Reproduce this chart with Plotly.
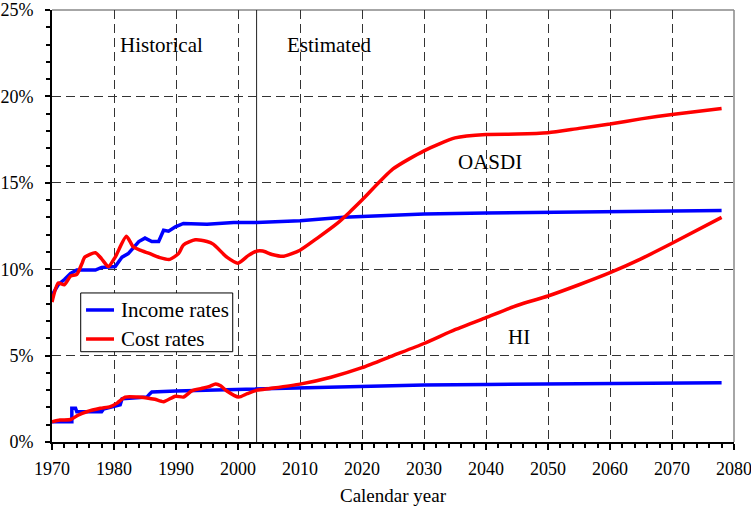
import plotly.graph_objects as go

# OASDI income rate
oasdi_inc_years = [1970, 1971, 1972, 1973, 1974, 1977, 1978, 1979.6, 1980.2, 1981.3, 1982.3, 1984, 1985, 1986.1, 1987.2, 1988, 1988.8, 1989.9, 1991.2, 1995, 1999.3, 2003, 2005, 2010, 2017, 2020, 2030, 2040, 2050, 2060, 2070, 2078]
oasdi_inc = [8.5, 9.1, 9.4, 9.75, 9.95, 9.95, 10.1, 10.15, 10.15, 10.7, 10.9, 11.6, 11.8, 11.6, 11.6, 12.25, 12.2, 12.45, 12.65, 12.6, 12.7, 12.7, 12.72, 12.8, 13.0, 13.05, 13.2, 13.25, 13.28, 13.32, 13.36, 13.4]

# OASDI cost rate
oasdi_cost_years = [1970, 1971, 1972, 1973, 1974, 1974.8, 1975.3, 1977, 1978, 1979.1, 1980.2, 1982, 1983.1, 1984.2, 1985.8, 1987.4, 1989, 1990.4, 1991.2, 1993.1, 1995, 1996, 1998.2, 2000, 2001.7, 2003.1, 2004, 2005.5, 2007.4, 2010, 2012.8, 2016, 2018, 2020, 2025, 2030, 2035, 2040, 2045, 2050, 2055, 2060, 2065, 2070, 2078]
oasdi_cost = [8.1, 9.2, 9.1, 9.6, 9.7, 10.3, 10.7, 10.95, 10.6, 10.15, 10.7, 11.9, 11.3, 11.1, 10.9, 10.67, 10.57, 10.9, 11.4, 11.7, 11.6, 11.45, 10.7, 10.35, 10.8, 11.05, 11.05, 10.85, 10.75, 11.1, 11.8, 12.65, 13.3, 14.0, 15.8, 16.85, 17.6, 17.8, 17.82, 17.9, 18.15, 18.4, 18.7, 18.95, 19.3]

# HI income rate (step-like history)
hi_inc_years = [1970, 1973.2, 1973.2, 1973.8, 1974, 1978, 1978.3, 1979.9, 1981, 1981.3, 1985.3, 1985.8, 1986.1, 1990, 1995, 2000, 2005, 2010, 2020, 2030, 2040, 2050, 2060, 2070, 2078]
hi_inc = [1.17, 1.17, 1.95, 1.95, 1.75, 1.75, 1.9, 2.05, 2.15, 2.5, 2.6, 2.8, 2.9, 2.95, 3.0, 3.05, 3.07, 3.12, 3.22, 3.3, 3.33, 3.35, 3.38, 3.41, 3.43]

# HI cost rate
hi_cost_years = [1970, 1971.3, 1973, 1974.2, 1975.6, 1977.8, 1979.4, 1980.5, 1981.8, 1983.8, 1985.3, 1986.6, 1988, 1989.9, 1991.2, 1992.6, 1994.1, 1995.3, 1996.4, 1997.2, 1998.2, 2000.1, 2001.5, 2003.1, 2005.2, 2010, 2015, 2020, 2025, 2030, 2035, 2040, 2045, 2050, 2055, 2060, 2065, 2070, 2078]
hi_cost = [1.17, 1.27, 1.3, 1.55, 1.75, 1.95, 2.05, 2.25, 2.6, 2.6, 2.55, 2.47, 2.33, 2.65, 2.6, 2.97, 3.1, 3.2, 3.35, 3.25, 2.95, 2.6, 2.8, 3.0, 3.1, 3.35, 3.75, 4.3, 5.0, 5.7, 6.5, 7.2, 7.9, 8.45, 9.1, 9.8, 10.6, 11.5, 13.0]

y_ticks = [0, 5, 10, 15, 20, 25]
y_tick_labels = ["0%", "5%", "10%", "15%", "20%", "25%"]
x_ticks = [1970, 1980, 1990, 2000, 2010, 2020, 2030, 2040, 2050, 2060, 2070, 2080]
legend_labels = ["Income rates", "Cost rates"]

BLUE = "#0000ff"
RED = "#ff0000"
FONT = "Liberation Serif, Times New Roman, serif"

fig = go.Figure()
fig.add_trace(go.Scatter(x=oasdi_inc_years, y=oasdi_inc, mode="lines", name=legend_labels[0],
                         line=dict(color=BLUE, width=3.5)))
fig.add_trace(go.Scatter(x=hi_inc_years, y=hi_inc, mode="lines", name=legend_labels[0],
                         line=dict(color=BLUE, width=3.5)))
fig.add_trace(go.Scatter(x=oasdi_cost_years, y=oasdi_cost, mode="lines", name=legend_labels[1],
                         line=dict(color=RED, width=3.5, shape="spline", smoothing=0.6)))
fig.add_trace(go.Scatter(x=hi_cost_years, y=hi_cost, mode="lines", name=legend_labels[1],
                         line=dict(color=RED, width=3.5, shape="spline", smoothing=0.6)))

# frame (top/right) and the 2003 divider
fig.add_shape(type="line", xref="paper", yref="paper", x0=0, x1=1, y0=1, y1=1,
              line=dict(color="#888888", width=1.5), layer="below")
fig.add_shape(type="line", xref="paper", yref="paper", x0=1, x1=1, y0=0, y1=1,
              line=dict(color="#888888", width=1.5), layer="below")
fig.add_shape(type="line", xref="x", yref="paper", x0=2003, x1=2003, y0=0, y1=1,
              line=dict(color="#222222", width=1), layer="below")

# boxed legend
fig.add_shape(type="rect", xref="paper", yref="paper", x0=0.0421, x1=0.265, y0=0.209, y1=0.345,
              line=dict(color="black", width=1), fillcolor="white", layer="above")
for yy, col, lab in [(0.3056, BLUE, legend_labels[0]), (0.2384, RED, legend_labels[1])]:
    fig.add_shape(type="line", xref="paper", yref="paper", x0=0.0499, x1=0.0909, y0=yy, y1=yy,
                  line=dict(color=col, width=3.5), layer="above")
    fig.add_annotation(xref="paper", yref="paper", x=0.0982, y=yy, text=lab, showarrow=False,
                       xanchor="left", yanchor="middle", font=dict(family=FONT, size=21, color="black"))

ann_font = dict(family=FONT, size=21, color="black")
fig.add_annotation(x=1987.7, y=23.0, text="Historical", showarrow=False, font=ann_font)
fig.add_annotation(x=2014.6, y=23.0, text="Estimated", showarrow=False, font=ann_font)
fig.add_annotation(x=2040.7, y=16.2, text="OASDI", showarrow=False, font=ann_font)
fig.add_annotation(x=2045.4, y=6.1, text="HI", showarrow=False, font=ann_font)

fig.update_layout(
    width=751, height=506,
    margin=dict(l=52, r=17, t=10, b=64),
    paper_bgcolor="white", plot_bgcolor="white",
    font=dict(family=FONT, size=18, color="black"),
    showlegend=False,
    xaxis=dict(range=[1970, 2080], tickvals=x_ticks, showline=True, linecolor="black", linewidth=2,
               ticks="outside", ticklen=6, tickwidth=1.5, tickcolor="black",
               minor=dict(dtick=2, tick0=1970, ticks="outside", ticklen=4, tickcolor="black", showgrid=False),
               showgrid=True, gridcolor="#333333", gridwidth=1, griddash="9px,5px",
               zeroline=False, tickfont=dict(size=18), automargin=False, ticklabelstandoff=3,
               ticklabeloverflow="allow",
               title=dict(text="Calendar year", font=dict(size=19), standoff=13)),
    yaxis=dict(range=[0, 25], tickvals=y_ticks, ticktext=y_tick_labels, showline=True, linecolor="black", linewidth=2,
               ticks="outside", ticklen=5, tickwidth=1.5, tickcolor="black",
               minor=dict(dtick=1, ticks="outside", ticklen=4, tickcolor="black", showgrid=False),
               showgrid=True, gridcolor="#333333", gridwidth=1, griddash="9px,5px",
               zeroline=False, tickfont=dict(size=18), automargin=False, ticklabelstandoff=8,
               ticklabeloverflow="allow"),
)

fig.write_html("out.html", config={"displayModeBar": False},
               post_script="document.body.style.margin='0px';")
